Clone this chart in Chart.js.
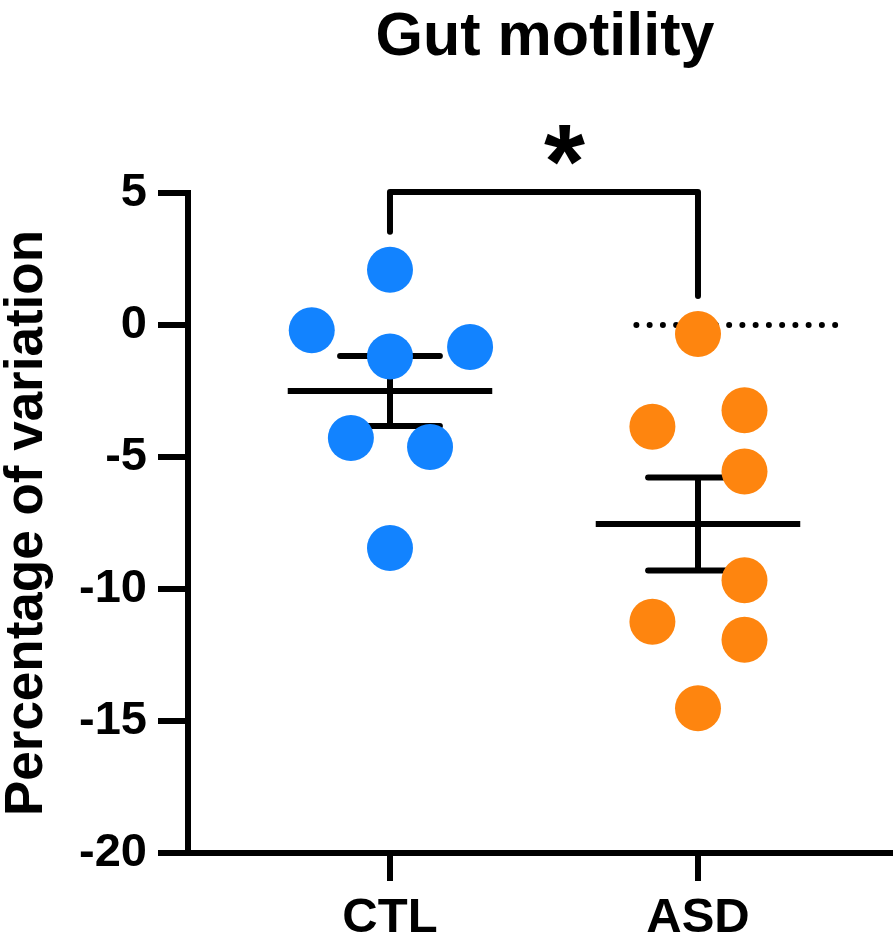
<!DOCTYPE html>
<html>
<head>
<meta charset="utf-8">
<title>Gut motility</title>
<script src="https://cdn.jsdelivr.net/npm/chart.js@4.4.1/dist/chart.umd.min.js"></script>
<style>
  html, body { margin: 0; padding: 0; background: #ffffff; overflow: hidden; }
  #wrap { position: relative; width: 896px; height: 943px; }
  #chart { display: block; }
</style>
</head>
<body>
<div id="wrap"><canvas id="chart"></canvas></div>
<script>
// Groups and their positions on the x axis
const groupNames = ['CTL', 'ASD'];
const groupPositions = [1, 2];

// Percentage of variation per animal
const ctlValues = [2.09, -0.20, -1.19, -0.83, -4.28, -4.62, -8.45];
const asdValues = [-0.34, -3.23, -3.85, -5.55, -9.67, -11.24, -11.92, -14.52];

// Horizontal spread of the dots around each group position (x-axis units)
const ctlJitter = [0, -0.254, 0, 0.26, -0.127, 0.13, 0];
const asdJitter = [0, 0.151, -0.148, 0.151, 0.151, -0.148, 0.151, 0];

// Y axis ticks
const yTicks = [5, 0, -5, -10, -15, -20];

// Reference line at 0 % (x-axis units for its extent)
const referenceLine = { value: 0, from: 1.8, to: 2.444 };

// Significance bracket between the two groups
const significance = { label: '*', level: 5 };

const FONT = '"Liberation Sans", Arial, Helvetica, sans-serif';
const DOT_RADIUS = 23;

function toPoints(values, jitter, pos) {
  return values.map((v, i) => ({ x: pos + jitter[i], y: v }));
}

function meanSem(values) {
  const n = values.length;
  const mean = values.reduce((a, b) => a + b, 0) / n;
  const sd = Math.sqrt(values.reduce((a, v) => a + (v - mean) ** 2, 0) / (n - 1));
  return { mean, sem: sd / Math.sqrt(n) };
}

const groupValues = [ctlValues, asdValues];

function strokeLine(ctx, x1, y1, x2, y2) {
  ctx.beginPath();
  ctx.moveTo(x1, y1);
  ctx.lineTo(x2, y2);
  ctx.stroke();
}

// Mean ± SEM bars and the dotted reference line, drawn beneath the dots
const summaryBars = {
  id: 'summaryBars',
  beforeDatasetsDraw(chart) {
    const { ctx, scales: { x, y } } = chart;
    ctx.save();
    ctx.strokeStyle = '#000';
    ctx.lineWidth = 6;

    const ry = y.getPixelForValue(referenceLine.value);
    ctx.setLineDash([0, 13.25]);
    ctx.lineCap = 'round';
    strokeLine(ctx, x.getPixelForValue(referenceLine.from), ry,
               x.getPixelForValue(referenceLine.to) + 0.5, ry);
    ctx.setLineDash([]);

    groupValues.forEach((values, i) => {
      const { mean, sem } = meanSem(values);
      const pos = groupPositions[i];
      const cx = x.getPixelForValue(pos);
      const half = x.getPixelForValue(pos + 0.332) - cx;
      const capHalf = x.getPixelForValue(pos + 0.162) - cx;
      const ym = y.getPixelForValue(mean);
      const yHi = y.getPixelForValue(mean + sem);
      const yLo = y.getPixelForValue(mean - sem);
      ctx.lineCap = 'butt';
      strokeLine(ctx, cx - half, ym, cx + half, ym);
      strokeLine(ctx, cx, yHi, cx, yLo);
      ctx.lineCap = 'round';
      strokeLine(ctx, cx - capHalf, yHi, cx + capHalf, yHi);
      strokeLine(ctx, cx - capHalf, yLo, cx + capHalf, yLo);
    });
    ctx.restore();
  }
};

// Title, significance bracket and asterisk
const annotations = {
  id: 'annotations',
  afterDraw(chart) {
    const { ctx, scales: { x, y } } = chart;
    const x1 = x.getPixelForValue(groupPositions[0]);
    const x2 = x.getPixelForValue(groupPositions[1]);
    const mid = (x1 + x2) / 2;
    ctx.save();

    ctx.fillStyle = '#000';
    ctx.font = 'bold 61px ' + FONT;
    ctx.textAlign = 'center';
    ctx.textBaseline = 'alphabetic';
    ctx.fillText('Gut motility', mid + 1, 55);

    const top = y.getPixelForValue(significance.level) - 1;
    const leg1 = y.getPixelForValue(Math.max(...ctlValues)) - DOT_RADIUS - 15;
    const leg2 = y.getPixelForValue(Math.max(...asdValues)) - DOT_RADIUS - 15;
    ctx.strokeStyle = '#000';
    ctx.lineWidth = 6;
    ctx.lineCap = 'round';
    ctx.lineJoin = 'round';
    ctx.beginPath();
    ctx.moveTo(x1, leg1);
    ctx.lineTo(x1, top);
    ctx.lineTo(x2, top);
    ctx.lineTo(x2, leg2);
    ctx.stroke();

    // asterisk sized to a 40 px glyph, centred above the bracket
    ctx.font = 'bold 100px ' + FONT;
    const m = ctx.measureText(significance.label);
    const gh = m.actualBoundingBoxAscent + m.actualBoundingBoxDescent;
    const size = 100 * 40 / gh;
    ctx.font = 'bold ' + size.toFixed(1) + 'px ' + FONT;
    const m2 = ctx.measureText(significance.label);
    const glyphTop = 125;
    const gw = m2.actualBoundingBoxLeft + m2.actualBoundingBoxRight;
    ctx.textAlign = 'left';
    ctx.fillText(significance.label,
                 mid - gw / 2 + m2.actualBoundingBoxLeft,
                 glyphTop + m2.actualBoundingBoxAscent);
    ctx.restore();
  }
};

new Chart(document.getElementById('chart'), {
  type: 'scatter',
  data: {
    datasets: [
      {
        label: groupNames[0],
        data: toPoints(ctlValues, ctlJitter, groupPositions[0]),
        backgroundColor: '#1283FF',
        borderWidth: 0,
        pointRadius: DOT_RADIUS,
        pointHoverRadius: DOT_RADIUS
      },
      {
        label: groupNames[1],
        data: toPoints(asdValues, asdJitter, groupPositions[1]),
        backgroundColor: '#FE850F',
        borderWidth: 0,
        pointRadius: DOT_RADIUS,
        pointHoverRadius: DOT_RADIUS
      }
    ]
  },
  options: {
    responsive: true,
    maintainAspectRatio: false,
    animation: false,
    layout: { autoPadding: false, padding: { top: 193, left: 0, right: 6, bottom: 0 } },
    plugins: {
      legend: { display: false },
      tooltip: { enabled: false },
      title: { display: false }
    },
    scales: {
      x: {
        type: 'linear',
        min: 0.3442,
        max: 2.6234,
        afterBuildTicks(scale) {
          scale.ticks = groupPositions.map(v => ({ value: v }));
        },
        afterFit(scale) {
          scale.height = 90;
          scale.paddingLeft = 0;
          scale.paddingRight = 0;
        },
        grid: {
          drawOnChartArea: false,
          drawTicks: true,
          tickLength: 28,
          lineWidth: 6,
          color: '#000'
        },
        border: { display: true, width: 6, color: '#000' },
        ticks: {
          padding: 8,
          color: '#000',
          font: { family: FONT, size: 49, weight: 'bold' },
          callback(value) {
            const idx = groupPositions.indexOf(value);
            return idx >= 0 ? groupNames[idx] : '';
          }
        }
      },
      y: {
        min: -20,
        max: 5,
        afterBuildTicks(scale) {
          scale.ticks = yTicks.map(v => ({ value: v }));
        },
        afterFit(scale) {
          scale.width = 188;
          scale.paddingTop = 0;
          scale.paddingBottom = 0;
        },
        grid: {
          drawOnChartArea: false,
          drawTicks: true,
          tickLength: 30,
          lineWidth: 6,
          color: '#000'
        },
        border: { display: true, width: 6, color: '#000' },
        ticks: {
          padding: 11,
          color: '#000',
          font: { family: FONT, size: 47, weight: 'bold' }
        },
        title: {
          display: true,
          text: 'Percentage of variation',
          color: '#000',
          padding: 0,
          font: { family: FONT, size: 53, weight: 'bold', lineHeight: 1.04 }
        }
      }
    }
  },
  plugins: [summaryBars, annotations]
});
</script>
</body>
</html>
